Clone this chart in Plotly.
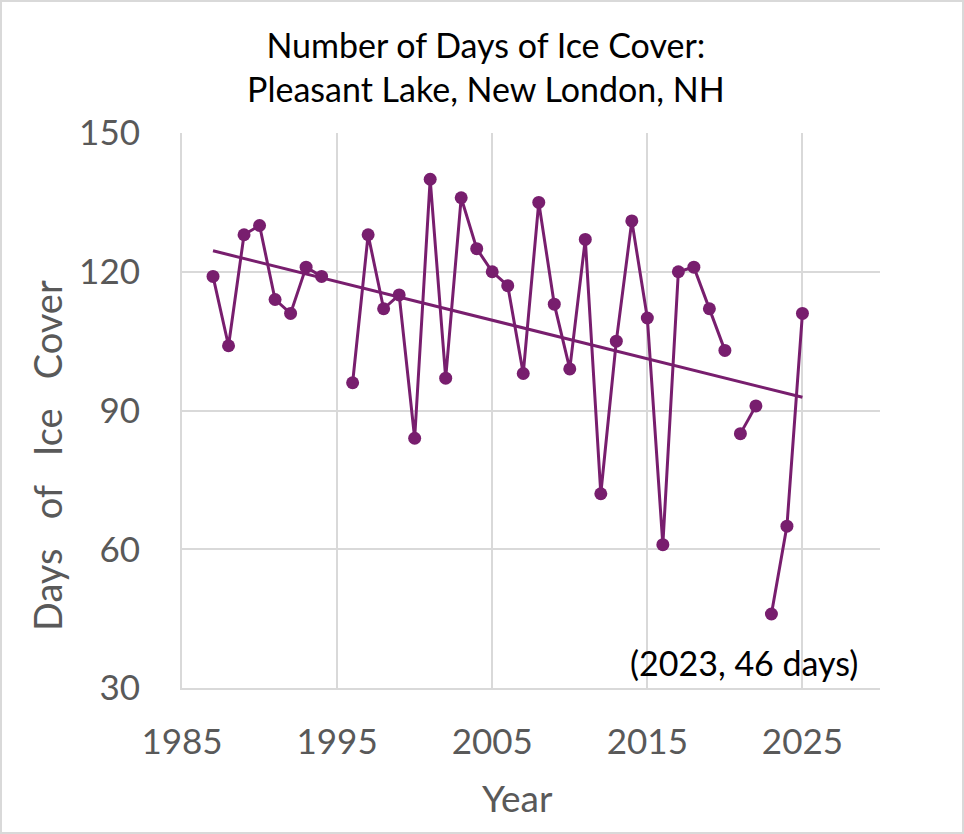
import numpy as np
import plotly.graph_objects as go

# ---- data ----
years = [1987, 1988, 1989, 1990, 1991, 1992, 1993, 1994, 1995, 1996, 1997, 1998,
         1999, 2000, 2001, 2002, 2003, 2004, 2005, 2006, 2007, 2008, 2009, 2010,
         2011, 2012, 2013, 2014, 2015, 2016, 2017, 2018, 2019, 2020, 2021, 2022,
         2023, 2024, 2025]
ice_days = [119, 104, 128, 130, 114, 111, 121, 119, None, 96, 128, 112,
            115, 84, 140, 97, 136, 125, 120, 117, 98, 135, 113, 99,
            127, 72, 105, 131, 110, 61, 120, 121, 112, 103, 85, 91,
            46, 65, 111]
# the plotted line is not drawn across these year boundaries
line_breaks_after = [2020, 2022]

x_ticks = [1985, 1995, 2005, 2015, 2025]
y_ticks = [30, 60, 90, 120, 150]
title_lines = ["Number of Days of Ice Cover:", "Pleasant Lake, New London, NH"]
x_title = "Year"
y_title_words = ["Days", "of", "Ice", "Cover"]
note_text = "(2023, 46 days)"

PURPLE = "#781e6e"
GRID = "#d9d9d9"
TICK = "#595959"
FONT = "Lato"

# build series with gaps
xs, ys = [], []
for yr, v in zip(years, ice_days):
    xs.append(yr)
    ys.append(v)
    if yr in line_breaks_after:
        xs.append(yr)
        ys.append(None)

# linear trendline (least squares over the available points)
valid = [(yr, v) for yr, v in zip(years, ice_days) if v is not None]
vx = np.array([p[0] for p in valid], dtype=float)
vy = np.array([p[1] for p in valid], dtype=float)
slope, intercept = np.polyfit(vx, vy, 1)
tx = [vx.min(), vx.max()]
ty = [slope * t + intercept for t in tx]

fig = go.Figure()
fig.add_trace(go.Scatter(
    x=xs, y=ys, mode="lines+markers", connectgaps=False,
    line=dict(color=PURPLE, width=3),
    marker=dict(color=PURPLE, size=13),
    showlegend=False, hoverinfo="x+y",
))
fig.add_trace(go.Scatter(
    x=tx, y=ty, mode="lines",
    line=dict(color=PURPLE, width=3),
    showlegend=False, hoverinfo="skip",
))

W, H = 964, 834
ml, mr, mt, mb = 182, 84, 133, 146
pw, ph = W - ml - mr, H - mt - mb

gap = "\u00a0\u00a0\u00a0"

fig.update_layout(
    width=W, height=H,
    margin=dict(l=ml, r=mr, t=mt, b=mb),
    paper_bgcolor="white", plot_bgcolor="white",
    font=dict(family=FONT, color=TICK),
    title=dict(
        text="<br>".join(title_lines),
        x=0.504, xref="container", xanchor="center",
        y=1 - 58 / H, yref="container", yanchor="top",
        font=dict(family=FONT, size=34, color="black"),
    ),
    xaxis=dict(
        range=[1985, 2030], tickvals=x_ticks, ticktext=[str(t) for t in x_ticks],
        showgrid=True, gridcolor=GRID, gridwidth=2,
        showline=True, linecolor=GRID, linewidth=2,
        zeroline=False, ticks="", ticklabelstandoff=22,
        tickfont=dict(family=FONT, size=35, color=TICK),
    ),
    yaxis=dict(
        range=[30, 150], tickvals=y_ticks, ticktext=[str(t) for t in y_ticks],
        showgrid=True, gridcolor=GRID, gridwidth=2,
        showline=True, linecolor=GRID, linewidth=2,
        zeroline=False, ticks="", ticklabelstandoff=33,
        tickfont=dict(family=FONT, size=35, color=TICK),
    ),
    annotations=[
        dict(text=note_text, xref="paper", yref="paper",
             x=1 - 20 / pw, y=3 / ph, xanchor="right", yanchor="bottom",
             showarrow=False, font=dict(family=FONT, size=34, color="black")),
        dict(text=x_title, xref="paper", yref="paper",
             x=(517 - ml) / pw, y=-(797 - mt - ph) / ph,
             xanchor="center", yanchor="middle",
             showarrow=False, font=dict(family=FONT, size=37, color=TICK)),
        dict(text=gap.join(y_title_words), xref="paper", yref="paper",
             x=(47 - ml) / pw, y=(mt + ph - 456) / ph, textangle=-90,
             xanchor="center", yanchor="middle",
             showarrow=False, font=dict(family=FONT, size=38, color=TICK)),
    ],
    shapes=[dict(
        type="rect", xref="paper", yref="paper",
        x0=(1 - ml) / pw, x1=(W - ml - 1) / pw,
        y0=-(mb - 1) / ph, y1=(H - mb - 1) / ph,
        line=dict(color=GRID, width=2), layer="below",
    )],
)

fig.write_html("out.html")
